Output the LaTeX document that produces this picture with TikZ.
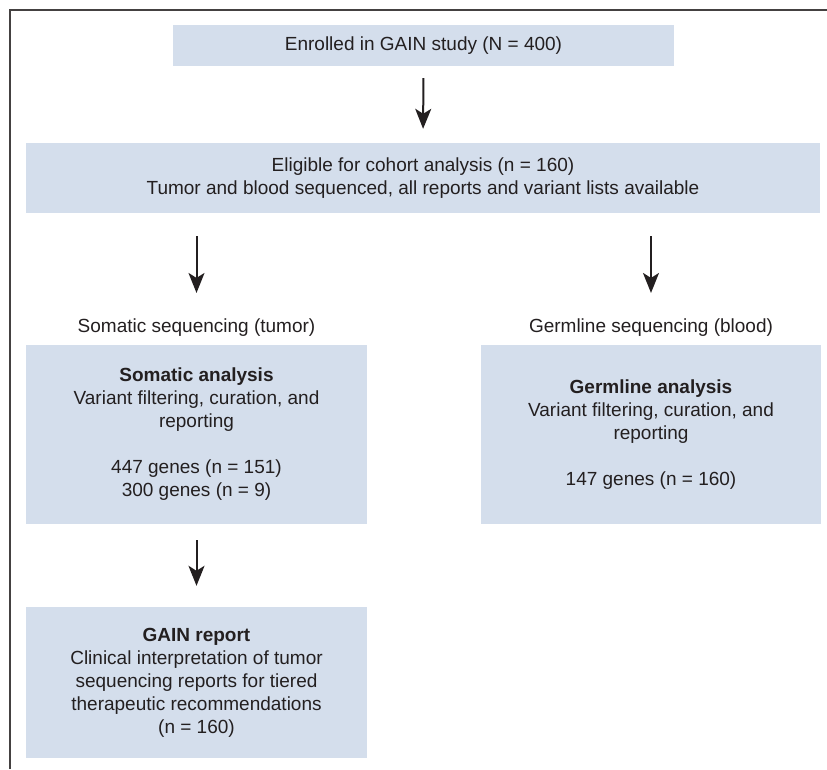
\documentclass[tikz,border=0pt]{standalone}
\usepackage{fontspec}
\setmainfont{Liberation Sans}
\usetikzlibrary{arrows.meta, positioning}
\definecolor{boxblue}{HTML}{D4DEEC}
\definecolor{inkgray}{HTML}{231F20}

\begin{document}
\begin{tikzpicture}[
    x=1pt, y=-1pt,
    every node/.style={text=inkgray, font=\fontsize{19}{23}\selectfont},
    stagebox/.style={rectangle, fill=boxblue, inner sep=0pt, align=center},
    steplabel/.style={inner sep=0pt, align=center},
    flowarrow/.style={draw=inkgray, line width=2pt, -{Stealth[length=20pt, width=16pt, inset=5pt]}}
]
\useasboundingbox (0,0) rectangle (827,769);
% Frame
\draw[line width=2pt, draw=inkgray!85] (10,769) -- (10,10) -- (827,10);

% Boxes
\node[stagebox, minimum width=501pt, minimum height=41pt] (enroll) at (423.5,45.5) {Enrolled in GAIN study (N = 400)};
\node[stagebox, minimum width=794pt, minimum height=70pt] (elig) at (423,178) {Eligible for cohort analysis (n = 160)\\Tumor and blood sequenced, all reports and variant lists available};

\node[steplabel] (somlab) at (196.5,328) {Somatic sequencing (tumor)};
\node[steplabel] (germlab) at (651,328) {Germline sequencing (blood)};

\node[stagebox, minimum width=341pt, minimum height=179pt] (somatic) at (196.5,434.5) {\textbf{Somatic analysis}\\Variant filtering, curation, and\\reporting\\[23pt]447 genes (n = 151)\\300 genes (n = 9)};
\node[stagebox, minimum width=340pt, minimum height=179pt] (germline) at (651,434.5) {\textbf{Germline analysis}\\Variant filtering, curation, and\\reporting\\[23pt]147 genes (n = 160)};

\node[stagebox, minimum width=341pt, minimum height=151pt] (gain) at (196.5,682.5) {\textbf{GAIN report}\\Clinical interpretation of tumor\\sequencing reports for tiered\\therapeutic recommendations\\(n = 160)};

% Arrows
\draw[flowarrow, shorten <=12pt, shorten >=14pt] (enroll.south) -- (elig.north);
\draw[flowarrow, shorten <=23pt, shorten >=26pt] (elig.south -| somlab.north) -- (somlab.north);
\draw[flowarrow, shorten <=23pt, shorten >=26pt] (elig.south -| germlab.north) -- (germlab.north);
\draw[flowarrow, shorten <=16pt, shorten >=21pt] (somatic.south) -- (gain.north);
\end{tikzpicture}
\end{document}
